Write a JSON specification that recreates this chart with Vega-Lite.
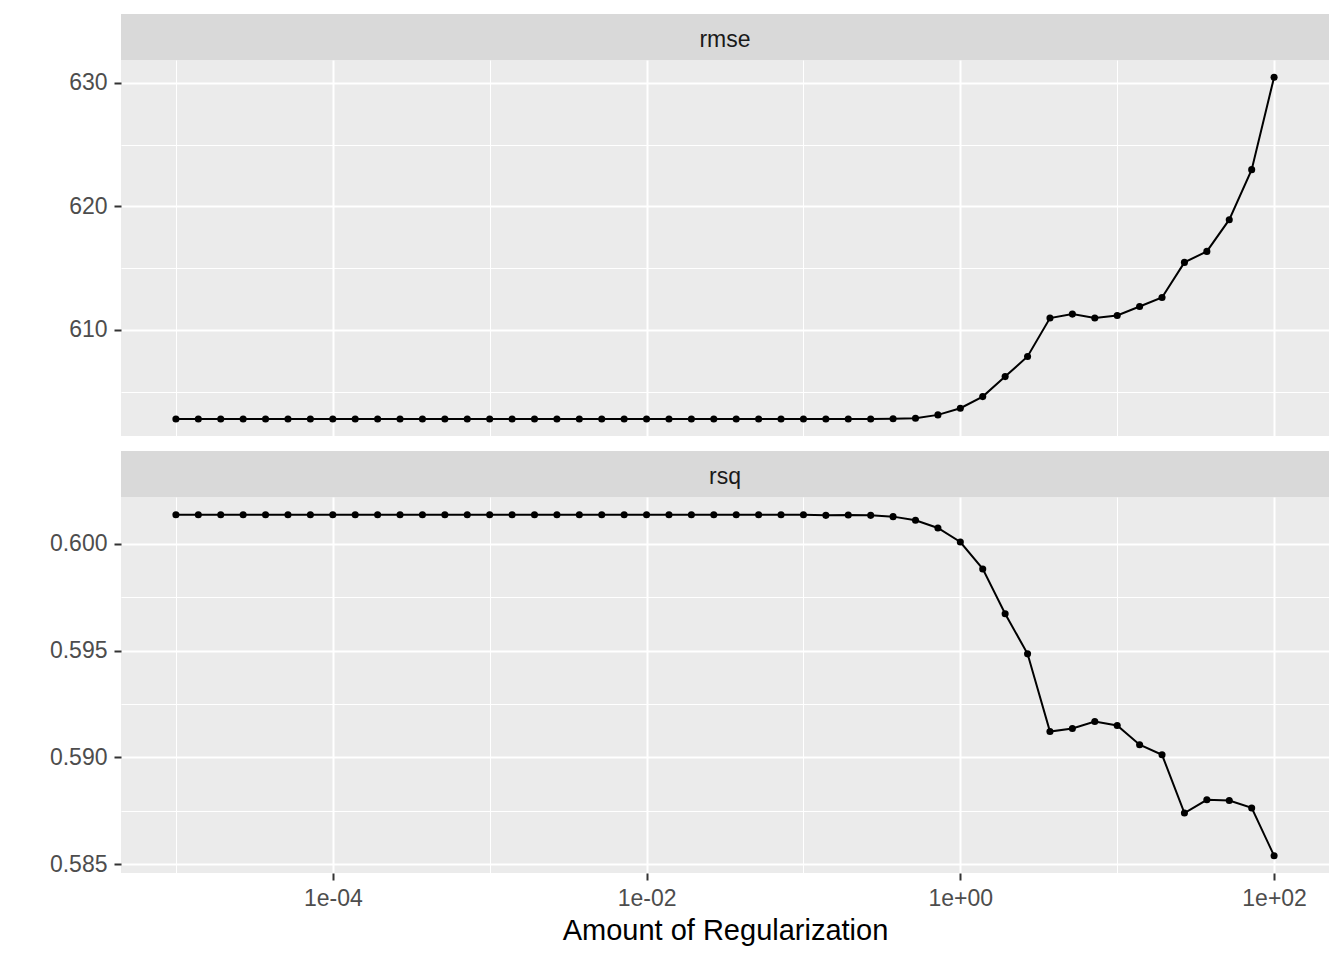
{
  "$schema": "https://vega.github.io/schema/vega-lite/v6.json",
  "background": "white",
  "padding": {"left": 49, "top": 14, "right": 15, "bottom": 10},
  "datasets": {
    "strips": [{"metric": "rmse"}, {"metric": "rsq"}],
    "metrics": [
      {"metric": "rmse", "penalty": 1e-05, "mean": 602.78},
      {"metric": "rmse", "penalty": 1.3895e-05, "mean": 602.78},
      {"metric": "rmse", "penalty": 1.9307e-05, "mean": 602.78},
      {"metric": "rmse", "penalty": 2.6827e-05, "mean": 602.78},
      {"metric": "rmse", "penalty": 3.7276e-05, "mean": 602.78},
      {"metric": "rmse", "penalty": 5.1795e-05, "mean": 602.78},
      {"metric": "rmse", "penalty": 7.1969e-05, "mean": 602.78},
      {"metric": "rmse", "penalty": 0.0001, "mean": 602.78},
      {"metric": "rmse", "penalty": 0.00013895, "mean": 602.78},
      {"metric": "rmse", "penalty": 0.00019307, "mean": 602.78},
      {"metric": "rmse", "penalty": 0.00026827, "mean": 602.78},
      {"metric": "rmse", "penalty": 0.00037276, "mean": 602.78},
      {"metric": "rmse", "penalty": 0.00051795, "mean": 602.78},
      {"metric": "rmse", "penalty": 0.00071969, "mean": 602.78},
      {"metric": "rmse", "penalty": 0.001, "mean": 602.78},
      {"metric": "rmse", "penalty": 0.0013895, "mean": 602.78},
      {"metric": "rmse", "penalty": 0.0019307, "mean": 602.78},
      {"metric": "rmse", "penalty": 0.0026827, "mean": 602.78},
      {"metric": "rmse", "penalty": 0.0037276, "mean": 602.78},
      {"metric": "rmse", "penalty": 0.0051795, "mean": 602.78},
      {"metric": "rmse", "penalty": 0.0071969, "mean": 602.78},
      {"metric": "rmse", "penalty": 0.01, "mean": 602.78},
      {"metric": "rmse", "penalty": 0.013895, "mean": 602.78},
      {"metric": "rmse", "penalty": 0.019307, "mean": 602.78},
      {"metric": "rmse", "penalty": 0.026827, "mean": 602.78},
      {"metric": "rmse", "penalty": 0.037276, "mean": 602.78},
      {"metric": "rmse", "penalty": 0.051795, "mean": 602.78},
      {"metric": "rmse", "penalty": 0.071969, "mean": 602.78},
      {"metric": "rmse", "penalty": 0.1, "mean": 602.78},
      {"metric": "rmse", "penalty": 0.13895, "mean": 602.78},
      {"metric": "rmse", "penalty": 0.19307, "mean": 602.78},
      {"metric": "rmse", "penalty": 0.26827, "mean": 602.78},
      {"metric": "rmse", "penalty": 0.37276, "mean": 602.79},
      {"metric": "rmse", "penalty": 0.51795, "mean": 602.84},
      {"metric": "rmse", "penalty": 0.71969, "mean": 603.11},
      {"metric": "rmse", "penalty": 1, "mean": 603.65},
      {"metric": "rmse", "penalty": 1.3895, "mean": 604.59},
      {"metric": "rmse", "penalty": 1.9307, "mean": 606.21},
      {"metric": "rmse", "penalty": 2.6827, "mean": 607.84},
      {"metric": "rmse", "penalty": 3.7276, "mean": 610.95},
      {"metric": "rmse", "penalty": 5.1795, "mean": 611.27},
      {"metric": "rmse", "penalty": 7.1969, "mean": 610.95},
      {"metric": "rmse", "penalty": 10, "mean": 611.16},
      {"metric": "rmse", "penalty": 13.895, "mean": 611.89},
      {"metric": "rmse", "penalty": 19.307, "mean": 612.62},
      {"metric": "rmse", "penalty": 26.827, "mean": 615.46},
      {"metric": "rmse", "penalty": 37.276, "mean": 616.35},
      {"metric": "rmse", "penalty": 51.795, "mean": 618.92},
      {"metric": "rmse", "penalty": 71.969, "mean": 622.97},
      {"metric": "rmse", "penalty": 100, "mean": 630.46},
      {"metric": "rsq", "penalty": 1e-05, "mean": 0.60137},
      {"metric": "rsq", "penalty": 1.3895e-05, "mean": 0.60137},
      {"metric": "rsq", "penalty": 1.9307e-05, "mean": 0.60137},
      {"metric": "rsq", "penalty": 2.6827e-05, "mean": 0.60137},
      {"metric": "rsq", "penalty": 3.7276e-05, "mean": 0.60137},
      {"metric": "rsq", "penalty": 5.1795e-05, "mean": 0.60137},
      {"metric": "rsq", "penalty": 7.1969e-05, "mean": 0.60137},
      {"metric": "rsq", "penalty": 0.0001, "mean": 0.60137},
      {"metric": "rsq", "penalty": 0.00013895, "mean": 0.60137},
      {"metric": "rsq", "penalty": 0.00019307, "mean": 0.60137},
      {"metric": "rsq", "penalty": 0.00026827, "mean": 0.60137},
      {"metric": "rsq", "penalty": 0.00037276, "mean": 0.60137},
      {"metric": "rsq", "penalty": 0.00051795, "mean": 0.60137},
      {"metric": "rsq", "penalty": 0.00071969, "mean": 0.60137},
      {"metric": "rsq", "penalty": 0.001, "mean": 0.60137},
      {"metric": "rsq", "penalty": 0.0013895, "mean": 0.60137},
      {"metric": "rsq", "penalty": 0.0019307, "mean": 0.60137},
      {"metric": "rsq", "penalty": 0.0026827, "mean": 0.60137},
      {"metric": "rsq", "penalty": 0.0037276, "mean": 0.60137},
      {"metric": "rsq", "penalty": 0.0051795, "mean": 0.60137},
      {"metric": "rsq", "penalty": 0.0071969, "mean": 0.60137},
      {"metric": "rsq", "penalty": 0.01, "mean": 0.60137},
      {"metric": "rsq", "penalty": 0.013895, "mean": 0.60137},
      {"metric": "rsq", "penalty": 0.019307, "mean": 0.60137},
      {"metric": "rsq", "penalty": 0.026827, "mean": 0.60137},
      {"metric": "rsq", "penalty": 0.037276, "mean": 0.60137},
      {"metric": "rsq", "penalty": 0.051795, "mean": 0.60137},
      {"metric": "rsq", "penalty": 0.071969, "mean": 0.60137},
      {"metric": "rsq", "penalty": 0.1, "mean": 0.60137},
      {"metric": "rsq", "penalty": 0.13895, "mean": 0.60134},
      {"metric": "rsq", "penalty": 0.19307, "mean": 0.60136},
      {"metric": "rsq", "penalty": 0.26827, "mean": 0.60134},
      {"metric": "rsq", "penalty": 0.37276, "mean": 0.60128},
      {"metric": "rsq", "penalty": 0.51795, "mean": 0.60111},
      {"metric": "rsq", "penalty": 0.71969, "mean": 0.60075},
      {"metric": "rsq", "penalty": 1, "mean": 0.60009},
      {"metric": "rsq", "penalty": 1.3895, "mean": 0.59883},
      {"metric": "rsq", "penalty": 1.9307, "mean": 0.59673},
      {"metric": "rsq", "penalty": 2.6827, "mean": 0.59485},
      {"metric": "rsq", "penalty": 3.7276, "mean": 0.59121},
      {"metric": "rsq", "penalty": 5.1795, "mean": 0.59135},
      {"metric": "rsq", "penalty": 7.1969, "mean": 0.59168},
      {"metric": "rsq", "penalty": 10, "mean": 0.59149},
      {"metric": "rsq", "penalty": 13.895, "mean": 0.59059},
      {"metric": "rsq", "penalty": 19.307, "mean": 0.59012},
      {"metric": "rsq", "penalty": 26.827, "mean": 0.58739},
      {"metric": "rsq", "penalty": 37.276, "mean": 0.58801},
      {"metric": "rsq", "penalty": 51.795, "mean": 0.58798},
      {"metric": "rsq", "penalty": 71.969, "mean": 0.58763},
      {"metric": "rsq", "penalty": 100, "mean": 0.58539}
    ]
  },
  "config": {
    "font": "Liberation Sans",
    "view": {"stroke": null},
    "axis": {
      "labelColor": "#4D4D4D",
      "labelFontSize": 23,
      "labelFont": "Liberation Sans",
      "tickColor": "#333333",
      "tickSize": 7,
      "tickWidth": 2,
      "labelPadding": 7,
      "domain": false,
      "gridColor": "#FFFFFF",
      "titleColor": "#000000",
      "titleFont": "Liberation Sans",
      "titleFontSize": 29,
      "titleFontWeight": "normal",
      "titlePadding": 6,
      "labelOverlap": false,
      "labelFlush": false
    }
  },
  "spacing": 15,
  "vconcat": [
    {
      "spacing": 0,
      "vconcat": [
        {
          "width": 1208,
          "height": 46,
          "view": {"fill": "#D9D9D9", "stroke": null},
          "data": {"name": "strips"},
          "transform": [{"filter": "datum.metric === 'rmse'"}],
          "mark": {"type": "text", "fontSize": 23, "color": "#1A1A1A", "font": "Liberation Sans", "baseline": "middle", "align": "center", "dy": 3},
          "encoding": {"text": {"field": "metric", "type": "nominal"}}
        },
        {
          "width": 1208,
          "height": 376,
          "view": {"fill": "#EBEBEB", "stroke": null},
          "data": {"name": "metrics"},
          "transform": [{"filter": "datum.metric === 'rmse'"}],
          "encoding": {
            "x": {
              "field": "penalty",
              "type": "quantitative",
              "scale": {"type": "log", "domain": [4.4668e-06, 223.87], "nice": false},
              "axis": {
                "title": null,
                "labels": false,
                "ticks": false,
                "values": [1e-05, 0.0001, 0.001, 0.01, 0.1, 1, 10, 100],
                "gridWidth": {"condition": {"test": "round(log(datum.value)/LN10) % 2 === 0", "value": 2}, "value": 1}
              }
            },
            "y": {
              "field": "mean",
              "type": "quantitative",
              "scale": {"domain": [601.4, 631.85], "nice": false, "zero": false},
              "axis": {
                "title": null,
                "values": [605, 610, 615, 620, 625, 630],
                "labelExpr": "datum.value % 10 === 0 ? format(datum.value, 'd') : ''",
                "tickOpacity": {"condition": {"test": "datum.value % 10 === 0", "value": 1}, "value": 0},
                "gridWidth": {"condition": {"test": "datum.value % 10 === 0", "value": 2}, "value": 1}
              }
            }
          },
          "layer": [
            {"mark": {"type": "line", "color": "#000000", "strokeWidth": 2}},
            {"mark": {"type": "point", "filled": true, "color": "#000000", "size": 50, "opacity": 1}}
          ]
        }
      ]
    },
    {
      "spacing": 0,
      "vconcat": [
        {
          "width": 1208,
          "height": 46,
          "view": {"fill": "#D9D9D9", "stroke": null},
          "data": {"name": "strips"},
          "transform": [{"filter": "datum.metric === 'rsq'"}],
          "mark": {"type": "text", "fontSize": 23, "color": "#1A1A1A", "font": "Liberation Sans", "baseline": "middle", "align": "center", "dy": 3},
          "encoding": {"text": {"field": "metric", "type": "nominal"}}
        },
        {
          "width": 1208,
          "height": 376,
          "view": {"fill": "#EBEBEB", "stroke": null},
          "data": {"name": "metrics"},
          "transform": [{"filter": "datum.metric === 'rsq'"}],
          "encoding": {
            "x": {
              "field": "penalty",
              "type": "quantitative",
              "scale": {"type": "log", "domain": [4.4668e-06, 223.87], "nice": false},
              "axis": {
                "title": "Amount of Regularization",
                "values": [1e-05, 0.0001, 0.001, 0.01, 0.1, 1, 10, 100],
                "labelExpr": "round(log(datum.value)/LN10) % 2 === 0 ? '1e' + (round(log(datum.value)/LN10) < 0 ? '-' : '+') + (abs(round(log(datum.value)/LN10)) < 10 ? '0' : '') + abs(round(log(datum.value)/LN10)) : ''",
                "tickOpacity": {"condition": {"test": "round(log(datum.value)/LN10) % 2 === 0", "value": 1}, "value": 0},
                "gridWidth": {"condition": {"test": "round(log(datum.value)/LN10) % 2 === 0", "value": 2}, "value": 1}
              }
            },
            "y": {
              "field": "mean",
              "type": "quantitative",
              "scale": {"domain": [0.58458, 0.6022], "nice": false, "zero": false},
              "axis": {
                "title": null,
                "values": [0.585, 0.5875, 0.59, 0.5925, 0.595, 0.5975, 0.6],
                "labelExpr": "abs(datum.value*200 - round(datum.value*200)) < 1e-6 ? format(datum.value, '.3f') : ''",
                "tickOpacity": {"condition": {"test": "abs(datum.value*200 - round(datum.value*200)) < 1e-6", "value": 1}, "value": 0},
                "gridWidth": {"condition": {"test": "abs(datum.value*200 - round(datum.value*200)) < 1e-6", "value": 2}, "value": 1}
              }
            }
          },
          "layer": [
            {"mark": {"type": "line", "color": "#000000", "strokeWidth": 2}},
            {"mark": {"type": "point", "filled": true, "color": "#000000", "size": 50, "opacity": 1}}
          ]
        }
      ]
    }
  ]
}
